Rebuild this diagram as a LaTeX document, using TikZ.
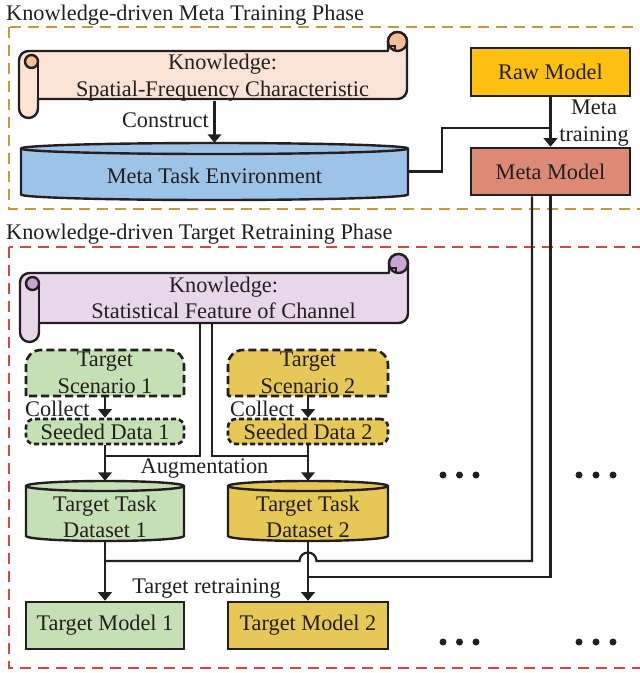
\documentclass[tikz,border=0pt]{standalone}
\usepackage{fontspec}
\setmainfont{Liberation Serif}
\usetikzlibrary{arrows.meta,calc}
\definecolor{ink}{HTML}{231F20}
\definecolor{goldline}{HTML}{C49A3A}
\definecolor{redline}{HTML}{CC4B45}
\definecolor{peach}{HTML}{FBE3D5}
\definecolor{peachdark}{HTML}{F5BE96}
\definecolor{skyblue}{HTML}{9DC3E6}
\definecolor{rawgold}{HTML}{FFC012}
\definecolor{salmon}{HTML}{DC8A76}
\definecolor{lav}{HTML}{E8D7EA}
\definecolor{lavdark}{HTML}{C8A5D3}
\definecolor{lgreen}{HTML}{C5E0B4}
\definecolor{mustard}{HTML}{E5C855}

% scroll: l t r b fill dark
\newcommand\drawscroll[6]{%
 \filldraw[fill=#5, draw=ink, line width=2.4pt, line join=round]
  (#1,{#2+28.5}) arc[start angle=180,end angle=90,radius=9.5pt]
  -- ({#3-19},{#2+19}) -- ({#3-19},{#2+9.5})
  arc[start angle=180,end angle=0,radius=9.5pt]
  -- (#3,{#4-28.5}) arc[start angle=0,end angle=-90,radius=9.5pt]
  -- ({#1+19},{#4-19}) -- ({#1+19},{#4-9.5})
  arc[start angle=0,end angle=-180,radius=9.5pt] -- cycle;
 \draw[ink, line width=2.4pt] ({#1+19},{#2+29.5}) -- ({#1+19},{#4-19});
 \filldraw[fill=#6, draw=ink, line width=2.4pt] ({#1+12.5},{#2+29.5}) circle[radius=6.5pt];
 \filldraw[fill=#6, draw=ink, line width=2.4pt] ({#3-9.5},{#2+9.5}) circle[radius=9.5pt];
 \draw[ink, line width=2pt] ({#3-19},{#2+14}) -- ({#3-12},{#2+14}) -- ({#3-12},{#2+19});
}
% cylinder: cx hw ty by ry fill
\newcommand\drawcyl[6]{%
 \filldraw[fill=#6, draw=ink, line width=2.4pt]
  ({#1-#2},{#3+#5}) -- ({#1-#2},#4) arc[start angle=180,end angle=360,x radius=#2pt,y radius=#5pt]
  -- ({#1+#2},{#3+#5}) arc[start angle=0,end angle=180,x radius=#2pt,y radius=#5pt] -- cycle;
 \draw[ink, line width=2.4pt] ({#1-#2},{#3+#5}) arc[start angle=180,end angle=360,x radius=#2pt,y radius=#5pt];
}
% scenario: x1 y1 x2 y2 fill
\newcommand\drawscen[5]{%
 \filldraw[fill=#5, draw=ink, line width=2.6pt, dash pattern=on 8pt off 4pt]
  (#1,#4) -- (#1,{#2+15}) arc[start angle=180,end angle=90,radius=15pt]
  -- ({#3-15},#2) arc[start angle=90,end angle=0,radius=15pt] -- (#3,#4) -- cycle;
}
% strut that lowers a centred multi-line text a little
\newcommand\lowr[1]{\rule{0pt}{#1pt}}

\begin{document}
\begin{tikzpicture}[x=1pt,y=-1pt, font=\fontsize{22.3}{26.5}\selectfont, text=ink,
  line/.style={draw=ink, line width=2.2pt},
  arr/.style={line, -{Triangle[length=8.5pt,width=13.5pt]}},
  box/.style={draw=ink, line width=2.6pt, inner sep=0pt, align=center},
  seeded/.style={box, rounded corners=8pt, dash pattern=on 5pt off 3pt},
  area/.style={inner sep=0pt, align=center},
  lab/.style={inner sep=0pt}]
\useasboundingbox (0,0) rectangle (640,673);
\fill[white] (0,0) rectangle (640,673);

% phase frames
\draw[goldline, line width=2.4pt, dash pattern=on 11pt off 7pt] (9,27) rectangle (652,209);
\draw[redline, line width=2.4pt, dash pattern=on 11pt off 7pt] (9,247) rectangle (652,668);
\node[lab, anchor=base west] (t1) at (6,20) {Knowledge-driven Meta Training Phase};
\node[lab, anchor=base west] (t2) at (6,239) {Knowledge-driven Target Retraining Phase};

% ---------- meta training phase ----------
\drawscroll{19}{32}{407}{118}{peach}{peachdark}
\node[area, minimum width=369, minimum height=50] (k1) at (222.5,75) {\lowr{20.5}Knowledge:\\Spatial-Frequency Characteristic};

\drawcyl{214.5}{193.5}{143}{194.5}{5.5}{skyblue}
\node[area, minimum width=387, minimum height=57] (mte) at (214.5,171.5) {};
\node[lab] (mtetext) at (214.5,175.6) {Meta Task Environment};

\node[box, fill=rawgold, minimum width=159, minimum height=48] (raw) at (550.5,72) {Raw Model};
\node[box, fill=salmon, minimum width=159, minimum height=47] (meta) at (550.5,171.5) {Meta Model};

\draw[arr] (k1.south -| mte.north) -- (mte.north);
\node[lab, anchor=base east] (cons) at (209,127) {Construct};
\draw[arr] (raw) -- (meta);
\node[area] (mtl) at (594,123) {Meta\\training};
\coordinate (mtJ) at (442,128);
\draw[line] (mte.east) -| (mtJ) -- (mtJ -| raw.south);

% ---------- target retraining phase ----------
\drawscroll{20}{254}{408}{342}{lav}{lavdark}
\node[area, minimum width=369, minimum height=50] (k2) at (223.5,298) {Knowledge:\\Statistical Feature of Channel};

\drawscen{26}{350}{184}{396}{lgreen}
\node[area, minimum width=158, minimum height=46] (ts1) at (105,373) {Target\\Scenario 1};
\drawscen{228}{350}{388}{396}{mustard}
\node[area, minimum width=160, minimum height=46] (ts2) at (308,373) {Target\\Scenario 2};

\node[seeded, fill=lgreen, minimum width=158, minimum height=25] (sd1) at (105,431.5) {Seeded Data 1};
\node[seeded, fill=mustard, minimum width=160, minimum height=25] (sd2) at (308,431.5) {Seeded Data 2};

\node[lab, anchor=base west] (c1) at (25,416) {Collect};
\node[lab, anchor=base west] (c2) at (230,416) {Collect};
\draw[arr] (ts1) -- (sd1);
\draw[arr] (ts2) -- (sd2);

\drawcyl{105}{79}{481}{536}{5}{lgreen}
\node[area, minimum width=158, minimum height=60] (ds1) at (105,511) {};
\node[area] (ds1text) at (105,516.7) {Target Task\\Dataset 1};
\drawcyl{308}{80}{481}{536}{5}{mustard}
\node[area, minimum width=160, minimum height=60] (ds2) at (308,511) {};
\node[area] (ds2text) at (308,516.7) {Target Task\\Dataset 2};

\coordinate (augL) at (200,456);
\coordinate (augR) at (212,456);
\draw[line] (k2.south -| augL) |- (sd1.south |- augL);
\draw[line] (k2.south -| augR) |- (sd2.south |- augR);
\draw[arr] (sd1) -- (ds1);
\draw[arr] (sd2) -- (ds2);
\node[lab, anchor=base] (aug) at (204.5,473) {Augmentation};

\node[box, fill=lgreen, minimum width=158, minimum height=47] (tm1) at (105,625.5) {Target Model 1};
\node[box, fill=mustard, minimum width=160, minimum height=47] (tm2) at (308,625.5) {Target Model 2};
\draw[arr] (ds1) -- (tm1);
\draw[arr] (ds2) -- (tm2);
\node[lab, anchor=base] (tr) at (206.5,593) {Target retraining};

\coordinate (mA) at (532,561);
\coordinate (mB) at (550,577);
\draw[line] (meta.south -| mA) -- (mA) -- ($(ds2.south |- mA)+(8.5,0)$)
  arc[start angle=0,end angle=180,radius=8.5pt] -- (ds1.south |- mA);
\draw[line] (meta.south) |- (ds2.south |- mB);

% ellipsis dots
\foreach \x in {443,459.5,476,579,596,613}
  \foreach \y in {475,642}
    \fill[ink] (\x,\y) circle[radius=3.5pt];
\end{tikzpicture}
\end{document}
